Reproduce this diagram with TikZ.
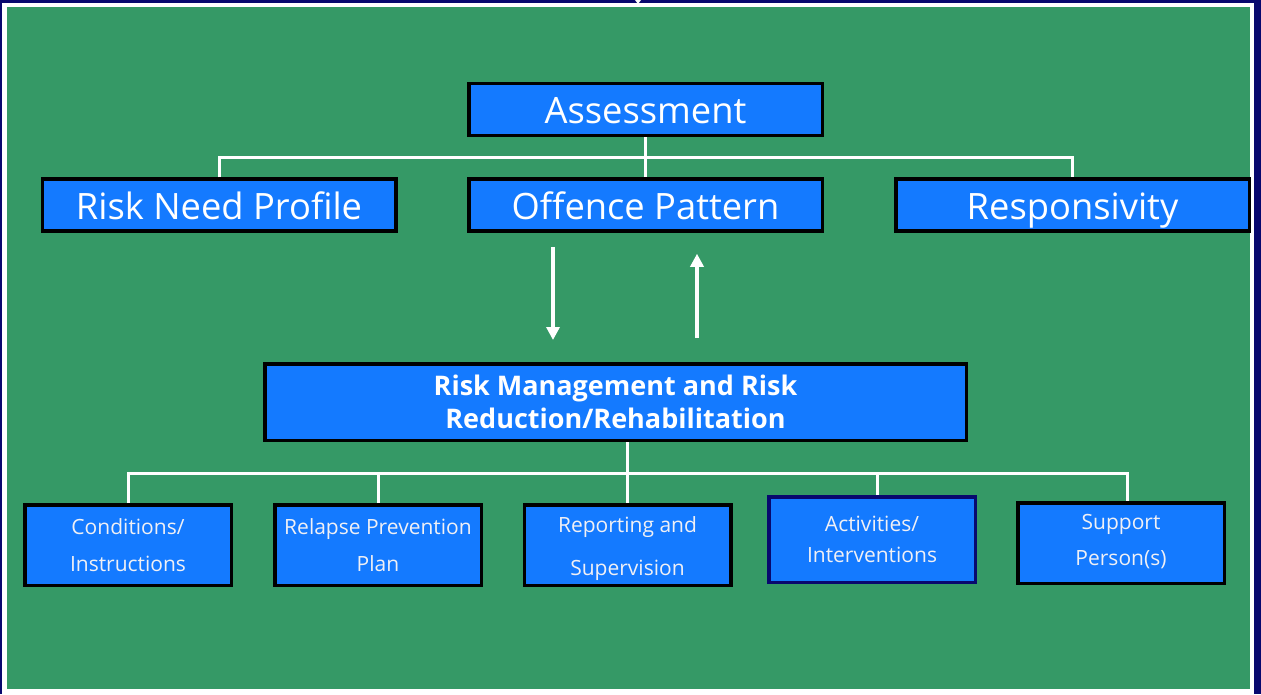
\documentclass[tikz,border=0pt]{standalone}
\usepackage{fontspec}
\setmainfont{Open Sans}
\usepackage{tikz}
\usetikzlibrary{
    positioning,
    arrows.meta,
    calc
}
\definecolor{frameNavy}{RGB}{8, 8, 110}
\definecolor{boardGreen}{RGB}{53, 153, 102}
\definecolor{boxBlue}{RGB}{20, 122, 255}
\definecolor{paleText}{RGB}{240, 240, 245}

\begin{document}
\begin{tikzpicture}[x=1pt, y=-1pt,
        bigbox/.style={draw=black, line width=3.5pt, fill=boxBlue, text=white,
            minimum width=353.5pt, minimum height=52pt, inner sep=0pt,
            text height=34pt, text depth=6pt,
            font=\fontsize{36.3}{42}\selectfont},
        smallbox/.style={draw=black, line width=3.5pt, fill=boxBlue, text=paleText,
            minimum width=206.5pt, minimum height=80.5pt, inner sep=0pt, align=center,
            font=\fontsize{21}{37}\selectfont},
        link/.style={draw=white, line width=3pt},
        flow/.style={draw=white, line width=4pt, -{Triangle[width=13pt,length=13pt]}}]
        \useasboundingbox (0,0) rectangle (1261,694);
        \fill[frameNavy] (0,0) rectangle (1261,694);
        \fill[white] (2,3) rectangle (1254,694);
        \fill[boardGreen] (7,7) rectangle (1250,689);
        \fill[white] (635,0) -- (641,0) -- (638,4) -- cycle;
        \fill[white] (635,694) -- (641,694) -- (638,689) -- cycle;

        \node[bigbox] (assess) at (645.5,109.5) {Assessment};
        \node[bigbox] (rnp) at (219,205) {Risk Need Profile};
        \node[bigbox] (offp) at (645.5,205) {Offence Pattern};
        \node[bigbox] (resp) at (1072.5,205) {Responsivity};

        \coordinate (topbus) at (645.5,157);
        \draw[link] (assess.south) -- (offp.north);
        \draw[link] (rnp.north) |- (topbus) -| (resp.north);

        \node[bigbox, minimum width=701.5pt, minimum height=76.5pt, align=center,
            text height=, text depth=,
            font=\fontsize{27}{33}\selectfont\bfseries] (rmr) at (615.5,402)
            {Risk Management and Risk\\Reduction/Rehabilitation};

        \draw[flow] ([xshift=-92.5pt, yshift=-14pt]offp.south) -- ([xshift=-62.5pt, yshift=22pt]rmr.north);
        \draw[flow] ([xshift=81.5pt, yshift=24pt]rmr.north) -- ([xshift=51.5pt, yshift=-21pt]offp.south);

        \node[smallbox] (cond) at (128,545) {Conditions/\\Instructions};
        \node[smallbox] (relapse) at (378,545) {Relapse Prevention\\Plan};
        \node[smallbox, font=\fontsize{21}{43}\selectfont] (report) at (627.5,545) {\raisebox{-4pt}[\height][\depth]{Reporting and}\\\raisebox{-4pt}[\height][\depth]{Supervision}};
        \node[smallbox, draw=frameNavy, minimum height=85.5pt, font=\fontsize{21}{31}\selectfont] (activ) at (872,539.5) {Activities/\\Interventions};
        \node[smallbox, font=\fontsize{21}{36}\selectfont] (support) at (1121,543) {\raisebox{6pt}{Support}\\\raisebox{6pt}{Person(s)}};

        \coordinate (lowbus) at (627.5,473);
        \draw[link] (report.north) -- (rmr.south -| report.north);
        \draw[link] (cond.north) |- (lowbus) -| ([xshift=6pt]support.north);
        \draw[link] (relapse.north) |- (lowbus);
        \draw[link] ([xshift=5pt]activ.north) |- (lowbus);
    \end{tikzpicture}
\end{document}
